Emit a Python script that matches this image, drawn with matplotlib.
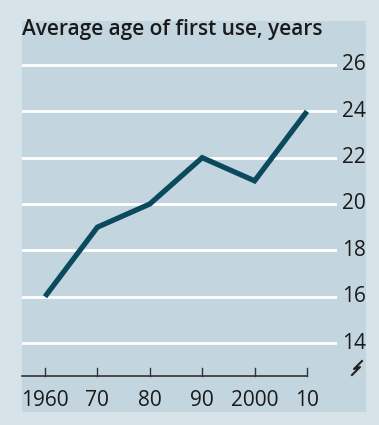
import matplotlib.pyplot as plt
from matplotlib.patches import Rectangle
from matplotlib.lines import Line2D

# data
years = [1960, 1970, 1980, 1990, 2000, 2010]
ages = [16, 19, 20, 22, 21, 24]
xtick_labels = ["1960", "70", "80", "90", "2000", "10"]
yticks = [14, 16, 18, 20, 22, 24, 26]

W, H = 379, 425
OUTER = "#d6e3e9"
PANEL = "#c3d6df"
LINE = "#0b4a5d"
TEXT = "#1a1a1a"
plt.rcParams["font.family"] = ["Open Sans", "DejaVu Sans"]


def px(x, y):
    """pixel (from top-left) -> figure fraction"""
    return x / W, 1 - y / H


fig = plt.figure(figsize=(W / 100, H / 100), dpi=100)
fig.patch.set_facecolor(OUTER)

# inner panel
x0, y0 = px(22, 412)
fig.patches.append(Rectangle((x0, y0), (366 - 22) / W, (412 - 21) / H,
                             transform=fig.transFigure, facecolor=PANEL,
                             edgecolor="none", zorder=-5))

# axes: x 22..337 px, y 20..376 px
ax = fig.add_axes([22 / W, 1 - 376 / H, (337 - 22) / W, (376 - 20) / H])
ax.set_zorder(2)
ax.set_facecolor("none")
ppd = 52.4 / 10  # pixels per year
ax.set_xlim(1960 - 23 / ppd, 1960 + (337 - 45) / ppd)
ppu = 23.17  # pixels per unit
ax.set_ylim(14 - 33 / ppu, 26 + 45 / ppu)
for s in ax.spines.values():
    s.set_visible(False)
ax.set_xticks([])
ax.set_yticks([])

# gridlines
for yv in yticks:
    ax.axhline(yv, color="white", lw=2.0, zorder=1)
    fx, fy = ax.transData.transform((0, yv))
    fig.text(342 / W, fy / H, str(yv), ha="left", va="center",
             fontsize=15, color=TEXT)

# data line
ax.plot(years, ages, color=LINE, lw=3.8, solid_capstyle="butt",
        solid_joinstyle="miter", zorder=3)

# x axis baseline with upward ticks
ybase = ax.get_ylim()[0]
ax.plot([ax.get_xlim()[0], years[-1]], [ybase, ybase], color="#333333",
        lw=1.2, clip_on=False, zorder=2)
tick_h = 8 / ppu
for xv in years:
    ax.plot([xv, xv], [ybase, ybase + tick_h], color="#333333", lw=1.0,
            clip_on=False, zorder=2)
for xv, lab in zip(years, xtick_labels):
    fx, _ = ax.transData.transform((xv, 0))
    fig.text(fx / W, 1 - 401 / H, lab, ha="center", va="center",
             fontsize=15, color=TEXT)

# axis break symbol
pts = [(362, 361), (354, 369), (360, 367), (352, 375)]
xs = [p[0] / W for p in pts]
ys = [1 - p[1] / H for p in pts]
fig.lines.append(Line2D(xs, ys, transform=fig.transFigure, color="#222222",
                        lw=1.5))

# title
fig.text(22 / W, 1 - 30 / H, "Average age of first use, years", ha="left",
         va="center", fontsize=15, fontweight="semibold", color=TEXT)

fig.savefig("out.png", dpi=100, facecolor=OUTER)
